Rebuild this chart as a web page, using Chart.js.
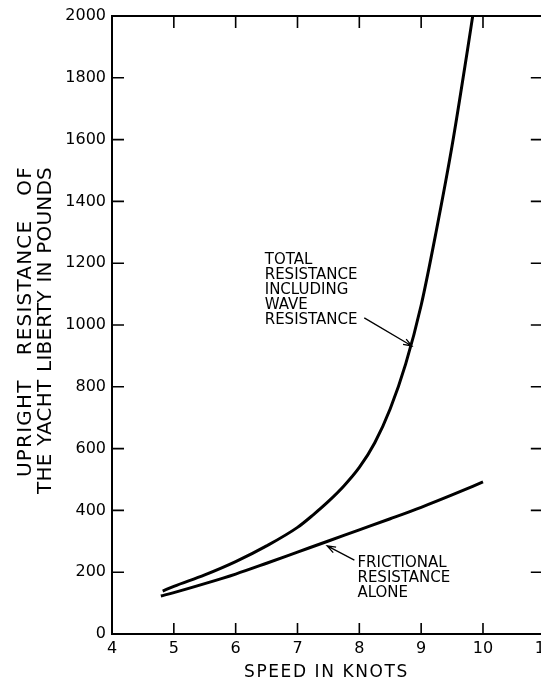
<!DOCTYPE html>
<html>
<head>
<meta charset="utf-8">
<script src="https://cdn.jsdelivr.net/npm/chart.js@4.4.0/dist/chart.umd.min.js"></script>
<style>
  html, body { margin: 0; padding: 0; background: #fff; overflow: hidden; }
  #wrap { position: relative; width: 560px; height: 681px; }
</style>
</head>
<body>
<div id="wrap"><canvas id="chart"></canvas></div>
<script>
// Values (speed in knots, resistance in pounds)
const totalSpeed = [4.82, 5.0, 5.5, 6.0, 6.5, 7.0, 7.25, 7.5, 7.75, 8.0, 8.25, 8.5, 8.75, 9.0, 9.25, 9.5, 9.75, 9.84];
const totalResistance = [139, 154, 191, 234, 285, 345, 385, 429, 479, 539, 619, 729, 874, 1064, 1310, 1580, 1891, 2008];

const frictionSpeed = [4.79, 5.0, 5.5, 6.0, 6.5, 7.0, 7.5, 8.0, 8.5, 9.0, 9.5, 10.0];
const frictionResistance = [123, 134, 163, 194, 229, 265, 301, 337, 373, 410, 450, 492];

const xTicks = [4, 5, 6, 7, 8, 9, 10, 11];
const yTicks = [0, 200, 400, 600, 800, 1000, 1200, 1400, 1600, 1800, 2000];

const FONT = "'DejaVu Sans', sans-serif";

function toPoints(xs, ys) {
    return xs.map((x, i) => ({ x: x, y: ys[i] }));
}

// top/right frame lines and the inward tick marks on all four sides
const framePlugin = {
    id: 'frame',
    afterDraw(chart) {
        const { ctx, chartArea: a, scales: { x, y } } = chart;
        ctx.save();
        ctx.strokeStyle = '#000';
        ctx.lineWidth = 2;
        ctx.beginPath();
        ctx.moveTo(a.left, a.top);
        ctx.lineTo(a.right, a.top);
        ctx.lineTo(a.right, a.bottom);
        ctx.stroke();

        ctx.lineWidth = 1.6;
        xTicks.slice(1, -1).forEach(v => {
            const px = x.getPixelForValue(v);
            ctx.beginPath();
            ctx.moveTo(px, a.bottom); ctx.lineTo(px, a.bottom - 11);
            ctx.moveTo(px, a.top); ctx.lineTo(px, a.top + 12);
            ctx.stroke();
        });
        yTicks.slice(1, -1).forEach(v => {
            const py = y.getPixelForValue(v);
            ctx.beginPath();
            ctx.moveTo(a.left, py); ctx.lineTo(a.left + 12, py);
            ctx.moveTo(a.right, py); ctx.lineTo(a.right - 14, py);
            ctx.stroke();
        });
        ctx.restore();
    }
};

function arrow(ctx, x1, y1, x2, y2) {
    const ang = Math.atan2(y2 - y1, x2 - x1);
    ctx.beginPath();
    ctx.moveTo(x1, y1);
    ctx.lineTo(x2, y2);
    ctx.moveTo(x2 - 9 * Math.cos(ang - 0.35), y2 - 9 * Math.sin(ang - 0.35));
    ctx.lineTo(x2, y2);
    ctx.lineTo(x2 - 9 * Math.cos(ang + 0.35), y2 - 9 * Math.sin(ang + 0.35));
    ctx.stroke();
}

// draws text with given letter spacing, stretching the word gaps to fill width
function spacedText(ctx, text, left, base, width, ls) {
    ctx.letterSpacing = ls + 'px';
    ctx.wordSpacing = '0px';
    const w = ctx.measureText(text).width;
    const gaps = text.split(' ').length - 1;
    if (gaps > 0) ctx.wordSpacing = Math.max(0, (width - w) / gaps) + 'px';
    ctx.fillText(text, left, base);
    ctx.letterSpacing = '0px';
    ctx.wordSpacing = '0px';
}

const labelPlugin = {
    id: 'labels',
    afterDraw(chart) {
        const { ctx, scales: { x, y } } = chart;
        ctx.save();
        ctx.fillStyle = '#000';
        ctx.strokeStyle = '#000';
        ctx.textAlign = 'left';
        ctx.textBaseline = 'alphabetic';

        // curve annotations
        ctx.font = '15px ' + FONT;
        const totalLines = ['TOTAL', 'RESISTANCE', 'INCLUDING', 'WAVE', 'RESISTANCE'];
        let tx = x.getPixelForValue(6.47), ty = y.getPixelForValue(1197);
        totalLines.forEach((t, i) => ctx.fillText(t, tx, ty + i * 15));
        const fricLines = ['FRICTIONAL', 'RESISTANCE', 'ALONE'];
        let fx = x.getPixelForValue(7.97), fy = y.getPixelForValue(217);
        fricLines.forEach((t, i) => ctx.fillText(t, fx, fy + i * 15));

        ctx.lineWidth = 1.3;
        arrow(ctx, x.getPixelForValue(8.08), y.getPixelForValue(1023),
                   x.getPixelForValue(8.85), y.getPixelForValue(932));
        arrow(ctx, x.getPixelForValue(7.92), y.getPixelForValue(239),
                   x.getPixelForValue(7.48), y.getPixelForValue(285));

        // x axis title
        ctx.font = '17px ' + FONT;
        ctx.letterSpacing = '1.6px';
        ctx.fillText('SPEED IN KNOTS', 244, 677);
        ctx.letterSpacing = '0px';

        // y axis title, two rotated lines
        ctx.font = '20px ' + FONT;
        ctx.textBaseline = 'middle';
        ctx.save();
        ctx.translate(26, 322);
        ctx.rotate(-Math.PI / 2);
        spacedText(ctx, 'UPRIGHT RESISTANCE OF', -155, 0, 311, 1.2);
        ctx.restore();
        ctx.save();
        ctx.translate(46, 331);
        ctx.rotate(-Math.PI / 2);
        spacedText(ctx, 'THE YACHT LIBERTY IN POUNDS', -163, 0, 327, 0.2);
        ctx.restore();
        ctx.restore();
    }
};

const ctx = document.getElementById('chart').getContext('2d');
const chart = new Chart(ctx, {
    type: 'line',
    data: {
        datasets: [
            {
                label: 'Total resistance including wave resistance',
                data: toPoints(totalSpeed, totalResistance),
                borderColor: '#000',
                borderWidth: 3,
                pointRadius: 0,
                cubicInterpolationMode: 'monotone'
            },
            {
                label: 'Frictional resistance alone',
                data: toPoints(frictionSpeed, frictionResistance),
                borderColor: '#000',
                borderWidth: 3,
                pointRadius: 0,
                cubicInterpolationMode: 'monotone'
            }
        ]
    },
    options: {
        responsive: true,
        maintainAspectRatio: false,
        animation: false,
        layout: { padding: { left: 0, top: 16, right: 14, bottom: 0 } },
        plugins: {
            legend: { display: false },
            tooltip: { enabled: false }
        },
        scales: {
            x: {
                type: 'linear',
                min: 4,
                max: 11,
                afterFit: s => { s.height = 47; },
                afterBuildTicks: s => { s.ticks = xTicks.map(v => ({ value: v })); },
                grid: { drawOnChartArea: false, drawTicks: false },
                border: { display: true, color: '#000', width: 2 },
                ticks: { color: '#000', padding: 5, maxRotation: 0, font: { family: FONT, size: 16 },
                         callback: v => String(v) }
            },
            y: {
                min: 0,
                max: 2000,
                afterFit: s => { s.width = 112; },
                afterBuildTicks: s => { s.ticks = yTicks.map(v => ({ value: v })); },
                grid: { drawOnChartArea: false, drawTicks: false },
                border: { display: true, color: '#000', width: 2 },
                ticks: { color: '#000', padding: 6, font: { family: FONT, size: 16 },
                         callback: v => String(v) }
            }
        }
    },
    plugins: [framePlugin, labelPlugin]
});
</script>
</body>
</html>
